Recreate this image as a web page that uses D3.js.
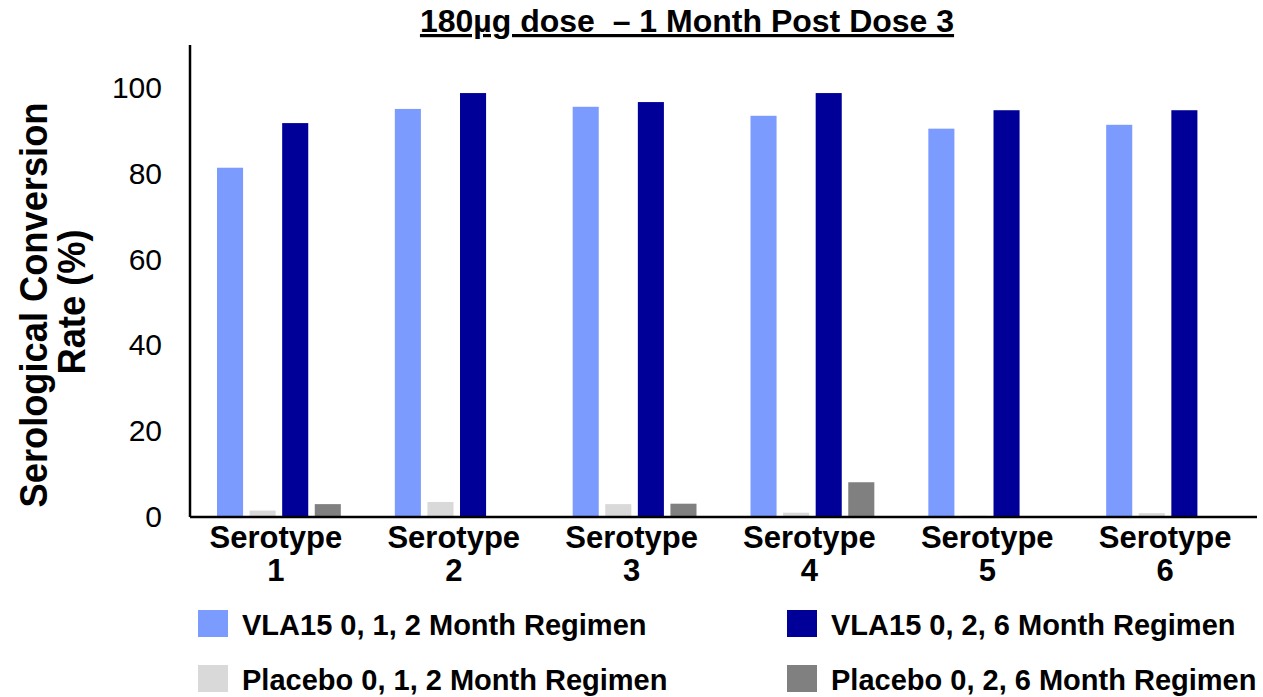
<!DOCTYPE html>
<html lang="en">
<head>
    <meta charset="UTF-8">
    <title>180µg dose – 1 Month Post Dose 3</title>
    <script src="https://d3js.org/d3.v7.min.js"></script>
    <style>
        body {
            margin: 0;
            background: #fff;
            font-family: Arial, "Liberation Sans", sans-serif;
        }
        .axis path, .axis line {
            stroke: #000;
        }
    </style>
</head>
<body>
    <svg id="chart" width="1263" height="697"></svg>

    <script>
        // Data
        const serotypes = ["1", "2", "3", "4", "5", "6"];
        const seriesNames = [
            "VLA15 0, 1, 2 Month Regimen",
            "Placebo 0, 1, 2 Month Regimen",
            "VLA15 0, 2, 6 Month Regimen",
            "Placebo 0, 2, 6 Month Regimen"
        ];
        const vla012 = [81.4, 95.1, 95.6, 93.5, 90.5, 91.4];
        const placebo012 = [1.5, 3.5, 3.0, 1.0, 0.3, 0.9];
        const vla026 = [91.8, 98.8, 96.7, 98.8, 94.8, 94.8];
        const placebo026 = [3.0, 0, 3.1, 8.1, 0, 0];
        const yTicks = [0, 20, 40, 60, 80, 100];

        const seriesValues = [vla012, placebo012, vla026, placebo026];
        const colors = ["#7b9bff", "#d9d9d9", "#000099", "#808080"];

        // Layout
        const margin = { top: 45, right: 6, bottom: 180, left: 190 };
        const W = 1263, H = 697;
        const width = W - margin.left - margin.right;
        const height = H - margin.top - margin.bottom;

        const svg = d3.select("#chart")
            .append("g")
            .attr("transform", `translate(${margin.left},${margin.top})`);

        // Scales
        const x0 = d3.scaleBand()
            .domain(serotypes)
            .range([0, width]);

        const x1 = d3.scaleBand()
            .domain(d3.range(seriesNames.length))
            .range([27, x0.bandwidth() - 27])
            .paddingInner(0.2);

        const y = d3.scaleLinear()
            .domain([0, 110])
            .range([height, 0]);

        const color = d3.scaleOrdinal()
            .domain(d3.range(seriesNames.length))
            .range(colors);

        // Build table for bars
        const rows = serotypes.map((s, i) => ({
            serotype: s,
            values: seriesValues.map((arr, k) => ({ k, value: arr[i] }))
        }));

        // Bars
        svg.selectAll(".group")
            .data(rows)
            .enter()
            .append("g")
            .attr("class", "group")
            .attr("transform", d => `translate(${x0(d.serotype)},0)`)
            .selectAll("rect")
            .data(d => d.values)
            .enter()
            .append("rect")
            .attr("x", d => x1(d.k))
            .attr("y", d => y(d.value))
            .attr("width", x1.bandwidth())
            .attr("height", d => y(0) - y(d.value))
            .attr("fill", d => color(d.k));

        // Y axis
        const yAxis = svg.append("g")
            .attr("class", "axis")
            .call(d3.axisLeft(y).tickValues(yTicks).tickSize(0).tickPadding(28));
        yAxis.select(".domain")
            .attr("d", `M0,0V${height}`)
            .attr("stroke-width", 2.5);
        yAxis.selectAll("text")
            .attr("font-family", "Arial, 'Liberation Sans', sans-serif")
            .attr("font-size", 30)
            .attr("fill", "#000");

        // X axis
        const xAxis = svg.append("g")
            .attr("class", "axis")
            .attr("transform", `translate(0,${height})`)
            .call(d3.axisBottom(x0).tickSize(0).tickFormat(""));
        xAxis.select(".domain")
            .attr("d", `M0,0H${width}`)
            .attr("stroke-width", 2.5);

        xAxis.selectAll(".tick")
            .append("text")
            .attr("text-anchor", "middle")
            .attr("font-family", "Arial, 'Liberation Sans', sans-serif")
            .attr("font-weight", "bold")
            .attr("font-size", 31)
            .attr("fill", "#000")
            .each(function(d) {
                const t = d3.select(this);
                t.append("tspan").attr("x", -3).attr("y", 31).text("Serotype");
                t.append("tspan").attr("x", -3).attr("y", 64).text(d);
            });

        // Y axis label (two lines)
        const yLabel = [
            { text: "Serological Conversion", x: 47, y: 305 },
            { text: "Rate (%)", x: 85, y: 302 }
        ];
        d3.select("#chart").selectAll(".ylabel")
            .data(yLabel)
            .enter()
            .append("text")
            .attr("class", "ylabel")
            .attr("transform", d => `translate(${d.x},${d.y}) rotate(-90) scale(0.93,1)`)
            .attr("text-anchor", "middle")
            .attr("font-weight", "bold")
            .attr("font-size", 39)
            .attr("fill", "#000")
            .text(d => d.text);

        // Title
        d3.select("#chart").append("text")
            .attr("x", 687)
            .attr("y", 32)
            .attr("text-anchor", "middle")
            .attr("font-weight", "bold")
            .attr("font-size", 32)
            .attr("fill", "#000")
            .style("white-space", "pre")
            .style("text-decoration", "underline")
            .text("180µg dose  – 1 Month Post Dose 3");

        // Legend (2 x 2)
        const legendPos = [
            { x: 198, y: 610 },
            { x: 198, y: 665 },
            { x: 787, y: 610 },
            { x: 787, y: 665 }
        ];
        const legend = d3.select("#chart").append("g").attr("class", "legend");
        seriesNames.forEach((name, i) => {
            const row = legend.append("g")
                .attr("transform", `translate(${legendPos[i].x},${legendPos[i].y})`);
            row.append("rect")
                .attr("width", 30)
                .attr("height", 27)
                .attr("fill", color(i));
            row.append("text")
                .attr("x", 44)
                .attr("y", 25)
                .attr("font-weight", "bold")
                .attr("font-size", 29)
                .attr("fill", "#000")
                .text(name);
        });
    </script>
</body>
</html>
